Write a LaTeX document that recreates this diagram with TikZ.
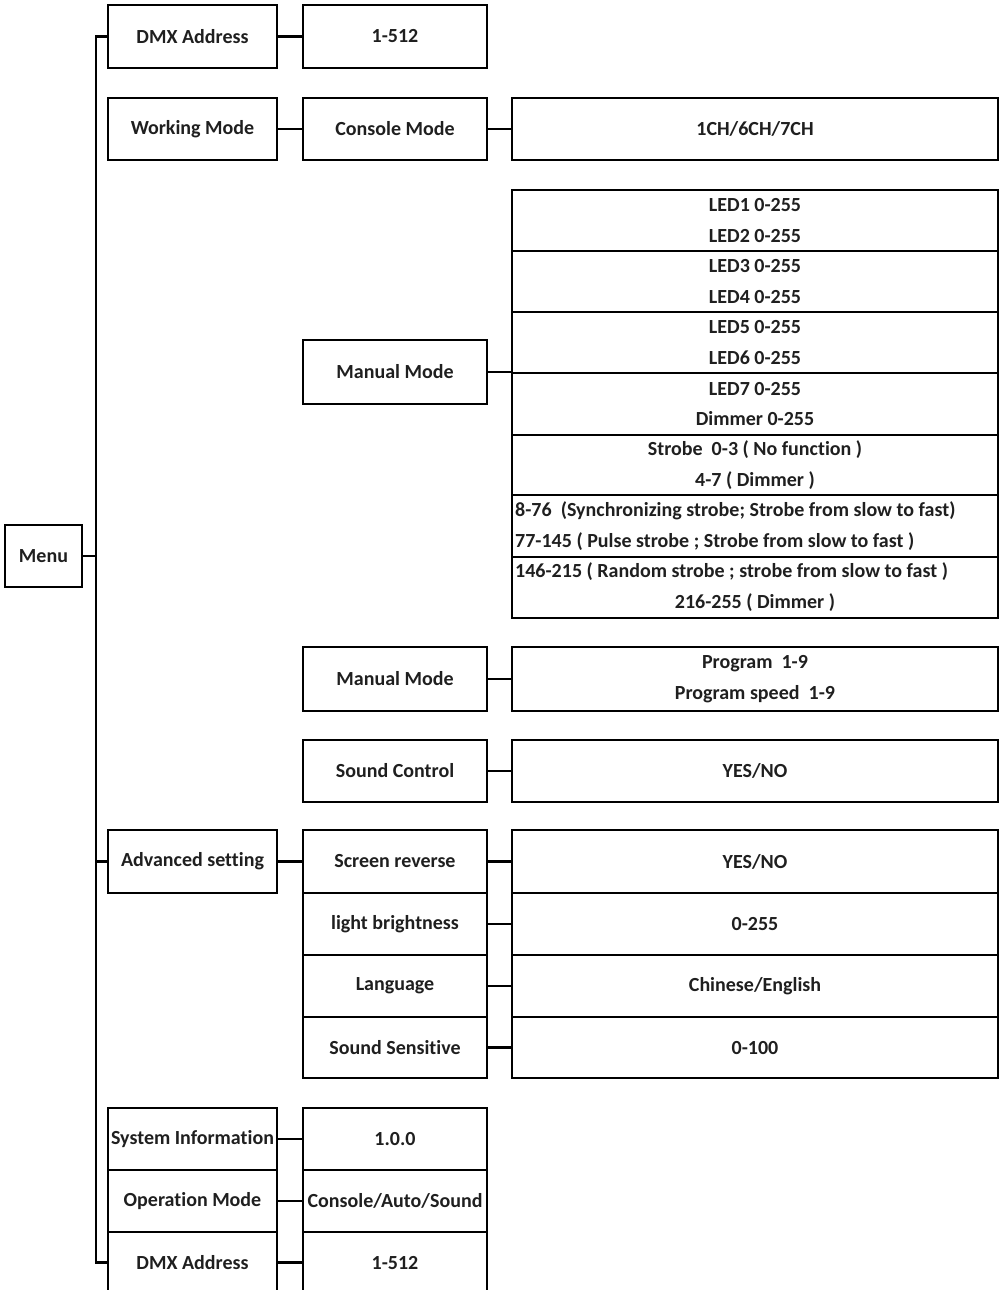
\documentclass[tikz,border=0pt]{standalone}
\usepackage{fontspec}
\setmainfont{Carlito}[Ligatures=NoCommon]
\begin{document}
\begin{tikzpicture}[x=1pt,y=-1pt,
  lbl/.style={font=\bfseries\fontsize{20}{30.5}\selectfont, text=black!88},
  bx/.style={draw, line width=2.6pt, rectangle, inner sep=0pt, align=center, lbl},
  c1/.style={bx, minimum width=169pt, minimum height=62pt},
  c2/.style={bx, minimum width=184pt, minimum height=62pt},
  c3/.style={bx, minimum width=486pt, minimum height=62pt},
  wire/.style={line width=2.6pt}]
\useasboundingbox (0,0) rectangle (1002,1290);
% trunk x
\coordinate (tr) at (96,0);
% Menu
\node[bx, minimum width=77pt, minimum height=62pt] (menu) at (43.5,556) {Menu};
% Column 1
\node[c1, minimum height=63pt] (dmx1) at (192.5,36.5) {DMX Address};
\node[c1] (work) at (192.5,129) {Working Mode};
\node[c1, minimum height=63pt] (adv) at (192.5,861.5) {Advanced setting};
\node[c1] (sys) at (192.5,1139) {System Information};
\node[c1] (opm) at (192.5,1201) {Operation Mode};
\node[c1, minimum height=61pt] (dmxb) at (192.5,1262.5) {DMX Address};
% Column 2
\node[c2, minimum height=63pt] (v512) at (395,36.5) {1-512};
\node[c2] (cons) at (395,129) {Console Mode};
\node[c2, minimum height=64pt] (man1) at (395,372) {Manual Mode};
\node[c2, minimum height=64pt] (man2) at (395,679) {Manual Mode};
\node[c2] (snd) at (395,771) {Sound Control};
\node[c2, minimum height=63pt] (scr) at (395,861.5) {Screen reverse};
\node[c2] (lgt) at (395,924) {light brightness};
\node[c2] (lang) at (395,986) {Language};
\node[c2, minimum height=61pt] (sens) at (395,1047.5) {Sound Sensitive};
\node[c2] (ver) at (395,1139) {1.0.0};
\node[c2] (cas) at (395,1201) {Console/Auto/Sound};
\node[c2, minimum height=61pt] (v512b) at (395,1262.5) {1-512};
% Column 3
\node[c3] (ch) at (755,129) {1CH/6CH/7CH};
\node[c3, minimum height=61pt] (r1) at (755,220.5) {LED1 0-255\\LED2 0-255};
\node[c3, minimum height=61pt] (r2) at (755,281.5) {LED3 0-255\\LED4 0-255};
\node[c3, minimum height=61pt] (r3) at (755,342.5) {LED5 0-255\\LED6 0-255};
\node[c3, minimum height=62pt] (r4) at (755,404) {LED7 0-255\\Dimmer 0-255};
\node[c3, minimum height=60pt] (r5) at (755,465) {Strobe\ \ 0-3 ( No function )\\4-7 ( Dimmer )};
\node[c3, minimum height=62pt] (r6) at (755,526) {};
\node[c3, minimum height=61pt] (r7) at (755,587.5) {};
\node[lbl, anchor=west, inner sep=0pt, align=left] (t6) at (515,526) {8-76\ \ (Synchronizing strobe; Strobe from slow to fast)\\77-145 ( Pulse strobe ; Strobe from slow to fast )};
\node[lbl, anchor=west, inner sep=0pt] (t7a) at (515,572) {146-215 ( Random strobe ; strobe from slow to fast )};
\node[lbl, inner sep=0pt] (t7b) at (755,603) {216-255 ( Dimmer )};
\node[c3, minimum height=64pt] (prog) at (755,679) {Program\ \ 1-9\\Program speed\ \ 1-9};
\node[c3] (yn1) at (755,771) {YES/NO};
\node[c3, minimum height=63pt] (yn2) at (755,861.5) {YES/NO};
\node[c3] (bri) at (755,924) {0-255};
\node[c3] (lng) at (755,986) {Chinese/English};
\node[c3, minimum height=61pt] (sen) at (755,1047.5) {0-100};
% Trunk and stubs
\draw[wire] (dmx1.west) -- (dmx1.west -| tr) -- (dmxb.west -| tr) -- (dmxb.west);
\draw[wire] (menu.east) -- (menu.east -| tr);
\draw[wire] (adv.west) -- (adv.west -| tr);
% Column 1 -> 2
\draw[wire] (dmx1) -- (v512);
\draw[wire] (work) -- (cons);
\draw[wire] (adv) -- (scr);
\draw[wire] (sys) -- (ver);
\draw[wire] (opm) -- (cas);
\draw[wire] (dmxb) -- (v512b);
% Column 2 -> 3
\draw[wire] (cons) -- (ch);
\draw[wire] (man1.east) -- (man1.east -| r4.west);
\draw[wire] (man2) -- (prog);
\draw[wire] (snd) -- (yn1);
\draw[wire] (scr) -- (yn2);
\draw[wire] (lgt) -- (bri);
\draw[wire] (lang) -- (lng);
\draw[wire] (sens) -- (sen);
\end{tikzpicture}
\end{document}
